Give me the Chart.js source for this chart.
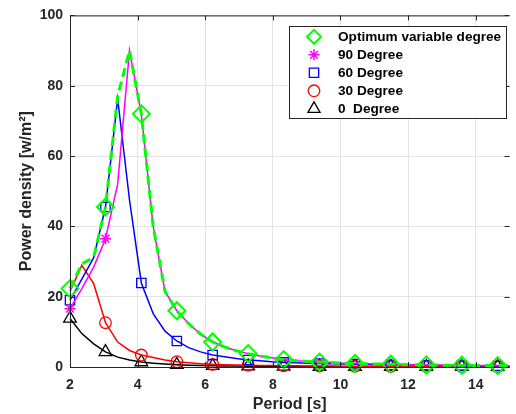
<!DOCTYPE html>
<html lang="en">
<head>
  <meta charset="UTF-8" />
  <title>Power density vs period</title>
  <script src="https://cdn.jsdelivr.net/npm/chart.js"></script>
  <style>
    html, body { margin: 0; padding: 0; background: #fff; }
    .wrap { width: 516px; height: 414px; overflow: hidden; }
    canvas { display: block; }
  </style>
</head>
<body>
  <div class="wrap"><canvas id="powerChart" width="520" height="414"></canvas></div>

  <script>
    // wave period [s]
    const periods = [2.00, 2.35, 2.70, 3.05, 3.41, 3.76, 4.11, 4.46, 4.81, 5.16, 5.51, 5.86, 6.22, 6.57, 6.92, 7.27, 7.62, 7.97, 8.32,
                     8.68, 9.03, 9.38, 9.73, 10.08, 10.43, 10.78, 11.14, 11.49, 11.84, 12.19, 12.54, 12.89, 13.24, 13.59, 13.95, 14.30, 14.65, 15.00];

    // power density [w/m2]
    const optimum = [22.3, 29.3, 31.2, 45.5, 77.0, 90.0, 72.0, 40.0, 21.5, 16.0, 12.3, 9.4, 7.1, 5.7, 4.6, 3.8, 3.1, 2.6, 2.1,
                     1.8, 1.6, 1.4, 1.25, 1.1, 1.0, 0.9, 0.85, 0.8, 0.7, 0.65, 0.6, 0.55, 0.5, 0.5, 0.45, 0.4, 0.4, 0.35];
    const deg90 = [16.6, 22.3, 28.4, 36.5, 52.0, 90.0, 72.0, 40.0, 21.5, 16.0, 12.3, 9.4, 7.1, 5.7, 4.6, 3.8, 3.1, 2.6, 2.1,
                   1.8, 1.6, 1.4, 1.25, 1.1, 1.0, 0.9, 0.85, 0.8, 0.7, 0.65, 0.6, 0.55, 0.5, 0.5, 0.45, 0.4, 0.4, 0.35];
    const deg60 = [19.0, 25.0, 31.1, 45.5, 76.3, 47.5, 23.9, 15.2, 10.2, 7.4, 5.5, 4.3, 3.4, 2.9, 2.4, 2.0, 1.8, 1.5, 1.3,
                   1.2, 1.1, 1.0, 0.9, 0.85, 0.8, 0.7, 0.65, 0.6, 0.55, 0.5, 0.5, 0.45, 0.4, 0.4, 0.35, 0.35, 0.3, 0.3];
    const deg30 = [21.5, 28.9, 23.7, 12.6, 7.1, 4.7, 3.4, 2.7, 2.0, 1.5, 1.2, 0.95, 0.75, 0.65, 0.55, 0.5, 0.45, 0.4, 0.35,
                   0.32, 0.3, 0.28, 0.26, 0.24, 0.22, 0.2, 0.19, 0.18, 0.17, 0.16, 0.15, 0.14, 0.13, 0.12, 0.12, 0.11, 0.1, 0.1];
    const deg0 = [13.8, 9.5, 6.6, 4.3, 2.8, 2.0, 1.4, 1.1, 0.85, 0.65, 0.5, 0.42, 0.35, 0.3, 0.26, 0.22, 0.2, 0.18, 0.16,
                  0.14, 0.13, 0.12, 0.11, 0.1, 0.09, 0.09, 0.08, 0.08, 0.07, 0.07, 0.06, 0.06, 0.06, 0.05, 0.05, 0.05, 0.05, 0.04];

    const seriesNames = ['Optimum variable degree', '90 Degree', '60 Degree', '30 Degree', '0  Degree'];
    const xTicks = [2, 4, 6, 8, 10, 12, 14];
    const yTicks = [0, 20, 40, 60, 80, 100];

    const FONT = 'Liberation Sans, Arial, sans-serif';
    const AXIS = '#262626';
    const markerEvery = 3;

    // from/to: range of point indices that get a marker
    const styles = [
      { color: '#00ff00', width: 3, dash: [9, 5], marker: 'rectRot', size: 8.5, mw: 2, from: 0, to: 99 },
      { color: '#ff00ff', width: 1.5, dash: [], marker: 'star', size: 5.5, mw: 1.5, from: 0, to: 3 },
      { color: '#0000ff', width: 1.5, dash: [], marker: 'rect', size: 6.6, mw: 1.3, from: 0, to: 99 },
      { color: '#ff0000', width: 1.5, dash: [], marker: 'circle', size: 5.8, mw: 1.3, from: 3, to: 99 },
      { color: '#000000', width: 1.5, dash: [], marker: 'triangle', size: 7.3, mw: 1.3, from: 0, to: 99 }
    ];

    const toPoints = ys => ys.map((y, i) => ({ x: periods[i], y }));
    const series = [optimum, deg90, deg60, deg30, deg0];

    const datasets = series.map((ys, i) => {
      const s = styles[i];
      const radius = ctx => {
        const k = ctx.dataIndex;
        return k % markerEvery === 0 && k >= s.from && k <= s.to ? s.size : 0;
      };
      return {
        label: seriesNames[i],
        data: toPoints(ys),
        borderColor: s.color,
        borderWidth: s.width,
        borderDash: s.dash,
        tension: 0,
        clip: false,
        pointStyle: s.marker,
        pointRadius: radius,
        pointHoverRadius: radius,
        pointBorderWidth: s.mw,
        pointBorderColor: s.color,
        pointBackgroundColor: 'rgba(0,0,0,0)'
      };
    });

    // MATLAB-like box, inward ticks and framed legend
    const axesBox = {
      id: 'axesBox',
      afterDraw(chart) {
        const { ctx, chartArea: a, scales: { x, y } } = chart;
        ctx.save();
        ctx.strokeStyle = AXIS;
        ctx.lineWidth = 1;
        ctx.beginPath();
        ctx.moveTo(a.left + 0.5, a.bottom + 0.5);
        ctx.lineTo(a.left + 0.5, a.top + 0.5);
        ctx.lineTo(a.right, a.top + 0.5);
        ctx.moveTo(a.left, a.bottom + 0.5);
        ctx.lineTo(a.right, a.bottom + 0.5);
        xTicks.forEach(v => {
          const px = Math.round(x.getPixelForValue(v)) + 0.5;
          ctx.moveTo(px, a.bottom); ctx.lineTo(px, a.bottom - 5);
          ctx.moveTo(px, a.top); ctx.lineTo(px, a.top + 5);
        });
        yTicks.forEach(v => {
          const py = Math.round(y.getPixelForValue(v)) + 0.5;
          ctx.moveTo(a.left, py); ctx.lineTo(a.left + 5, py);
          ctx.moveTo(a.right, py); ctx.lineTo(a.right - 5, py);
        });
        ctx.stroke();

        // legend
        const lx = 289.5, ly = 26.5, lw = 217, lh = 92;
        ctx.fillStyle = '#fff';
        ctx.fillRect(lx, ly, lw, lh);
        ctx.strokeRect(lx, ly, lw, lh);
        ctx.font = 'bold 13.6px ' + FONT;
        ctx.textBaseline = 'middle';
        styles.forEach((s, i) => {
          const cy = 36.8 + i * 18;
          ctx.strokeStyle = s.color;
          ctx.fillStyle = 'rgba(0,0,0,0)';
          ctx.lineWidth = s.mw;
          ctx.setLineDash([]);
          Chart.helpers.drawPoint(ctx, { pointStyle: s.marker, radius: Math.min(s.size, 7), borderWidth: s.mw, rotation: 0 }, 314, cy);
          ctx.fillStyle = '#000';
          ctx.fillText(seriesNames[i], 338, cy + 0.5);
        });
        ctx.restore();
      }
    };

    new Chart(document.getElementById('powerChart'), {
      type: 'line',
      data: { datasets },
      options: {
        responsive: false,
        animation: false,
        events: [],
        layout: { padding: { top: 15, left: 0, right: 0, bottom: 0 } },
        plugins: { legend: { display: false }, tooltip: { enabled: false } },
        scales: {
          x: {
            type: 'linear',
            min: 2,
            max: 15,
            afterFit: s => { s.height = 47; },
            afterBuildTicks: s => { s.ticks = xTicks.map(v => ({ value: v })); },
            grid: { color: '#e3e3e3', drawTicks: false },
            border: { display: false },
            ticks: { padding: 10, color: AXIS, font: { family: FONT, size: 14, weight: 'bold' } },
            title: { display: true, text: 'Period [s]', color: AXIS, padding: 0,
                     font: { family: FONT, size: 16, weight: 'bold' } }
          },
          y: {
            min: 0,
            max: 100,
            afterFit: s => { s.width = 70; },
            afterBuildTicks: s => { s.ticks = yTicks.map(v => ({ value: v })); },
            grid: { color: '#e3e3e3', drawTicks: false },
            border: { display: false },
            ticks: { padding: 7, color: AXIS, font: { family: FONT, size: 14, weight: 'bold' } },
            title: { display: true, text: 'Power density [w/m²]', color: AXIS, padding: { top: 17, bottom: 0 },
                     font: { family: FONT, size: 16, weight: 'bold' } }
          }
        }
      },
      plugins: [axesBox]
    });
  </script>
</body>
</html>
